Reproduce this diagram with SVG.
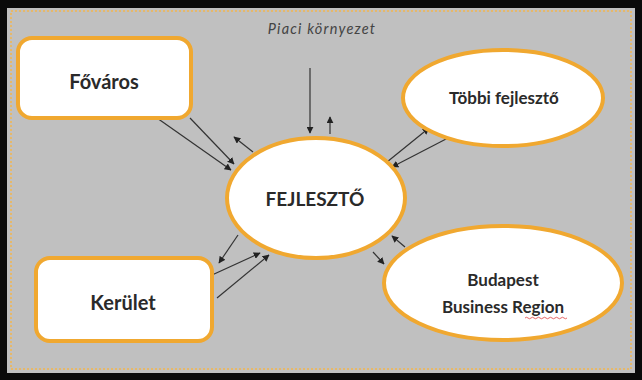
<svg xmlns="http://www.w3.org/2000/svg" width="642" height="380" viewBox="0 0 642 380">
<defs>
<style>
.node{fill:#ffffff;stroke:#f0a830;stroke-width:4}
.lbl{font-family:Lato,"Open Sans","Liberation Sans",sans-serif;font-weight:bold;fill:#2a2a2a;text-anchor:middle}
.con{stroke:#333333;stroke-width:1.2;fill:none;marker-end:url(#ah)}
</style>
<marker id="ah" viewBox="0 0 10 10" refX="9" refY="5" markerWidth="7" markerHeight="7" orient="auto" markerUnits="userSpaceOnUse">
<path d="M0,0 L10,5 L0,10 Z" fill="#222222"/>
</marker>
</defs>
<rect x="0" y="0" width="642" height="380" fill="#0a0a0a"/>
<rect x="7" y="8" width="628" height="365" fill="#c0c0c0"/>
<rect x="11" y="11" width="620" height="358" fill="none" stroke="#e6b86a" stroke-width="2" stroke-dasharray="2 2"/>
<text x="322" y="34" font-family="Lato,'Open Sans','Liberation Sans',sans-serif" font-style="italic" font-size="14.5" fill="#444444" text-anchor="middle" letter-spacing="1.2">Piaci környezet</text>
<g id="connectors">
<line class="con" x1="310" y1="68" x2="310" y2="133"/>
<line class="con" x1="330" y1="134" x2="330" y2="117"/>
<line class="con" x1="253" y1="152" x2="234" y2="137"/>
<line class="con" x1="157" y1="118" x2="231" y2="170"/>
<line class="con" x1="190" y1="118" x2="234" y2="164"/>
<line class="con" x1="238" y1="235" x2="219" y2="263"/>
<line class="con" x1="212" y1="275" x2="260" y2="253"/>
<line class="con" x1="217" y1="298" x2="269" y2="255"/>
<line class="con" x1="387" y1="162" x2="429" y2="128"/>
<line class="con" x1="448" y1="138" x2="392" y2="167"/>
<line class="con" x1="405" y1="247" x2="392" y2="236"/>
<line class="con" x1="373" y1="252" x2="384" y2="264"/>
</g>
<g id="fovaros">
<rect class="node" x="18" y="38" width="173" height="80" rx="14"/>
<text class="lbl" x="104" y="89" font-size="20">Főváros</text>
</g>
<g id="kerulet">
<rect class="node" x="36" y="258" width="176" height="83" rx="14"/>
<text class="lbl" x="123" y="310" font-size="20">Kerület</text>
</g>
<g id="fejleszto">
<ellipse class="node" cx="316" cy="198" rx="89" ry="60"/>
<text class="lbl" x="315" y="206" font-size="19">FEJLESZTŐ</text>
</g>
<g id="tobbi">
<ellipse class="node" cx="503" cy="98" rx="100" ry="48"/>
<text class="lbl" x="504" y="104" font-size="17">Többi fejlesztő</text>
</g>
<g id="bbr">
<ellipse class="node" cx="503" cy="283" rx="119" ry="57"/>
<text class="lbl" x="503" y="286" font-size="17">Budapest</text>
<text class="lbl" x="503" y="313" font-size="17">Business Region</text>
<path d="M525,318 q1.5,-1.5 3,0 t3,0 t3,0 t3,0 t3,0 t3,0 t3,0 t3,0 t3,0 t3,0 t3,0 t3,0 t3,0 t3,0" fill="none" stroke="#e04040" stroke-width="0.8"/>
</g>
</svg>
